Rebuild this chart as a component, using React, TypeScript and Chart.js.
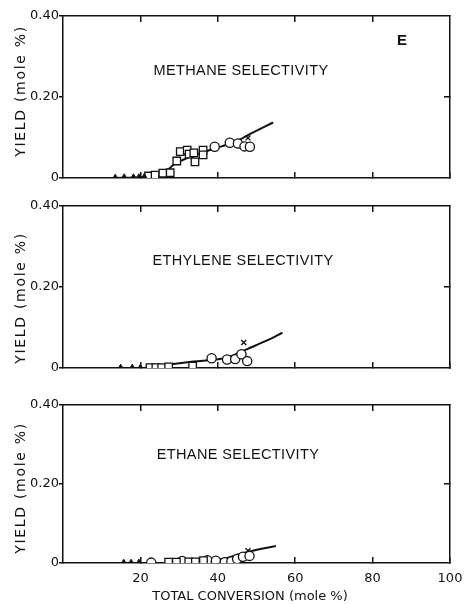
import React, { useEffect, useRef } from "react";
import { Chart, registerables } from "chart.js";

Chart.register(...registerables);

type Pt = [number, number];

// ---------- axis ticks ----------
const xTickValues = [20, 40, 60, 80, 100];
const xTopTickValues = [20, 40, 60, 80];
const yTickValues = [0, 0.2, 0.4];
const yRightTickValues = [0.2];

// ---------- methane ----------
const methaneTriangles: Pt[] = [[13.5, 0.002], [15.8, 0.003], [18.2, 0.003], [19.6, 0.003], [21, 0.004]];
const methaneSquares: Pt[] = [
  [22.1, 0.005], [23.8, 0.007], [25.8, 0.012], [27.7, 0.013], [29.4, 0.042], [30.3, 0.065],
  [32.1, 0.069], [32.6, 0.059], [33.8, 0.062], [34.1, 0.040], [36.2, 0.069], [36.2, 0.057],
];
const methaneCircles: Pt[] = [[39.2, 0.077], [43.1, 0.087], [45.2, 0.085], [46.9, 0.078], [48.3, 0.077]];
const methaneCross: Pt[] = [[47.8, 0.099]];
const methaneCurve: Pt[] = [
  [13, 0], [20, 0.002], [24, 0.007], [26.5, 0.016], [28.5, 0.032], [31.5, 0.047],
  [35, 0.059], [38, 0.069], [41, 0.078], [45, 0.092], [48.6, 0.11], [54.3, 0.137],
];

// ---------- ethylene ----------
const ethyleneTriangles: Pt[] = [[14.9, 0.002], [17.9, 0.002], [20, 0.002]];
const ethyleneSquares: Pt[] = [[22.5, 0.001], [24, 0.001], [25.5, 0.001], [27.3, 0.003], [33.5, 0.005]];
const ethyleneCircles: Pt[] = [[38.4, 0.024], [42.4, 0.021], [44.5, 0.022], [46.1, 0.034], [47.6, 0.017]];
const ethyleneCross: Pt[] = [[46.7, 0.063]];
const ethyleneCurve: Pt[] = [
  [21, 0], [25, 0.005], [28.5, 0.01], [33.7, 0.016], [40.5, 0.022], [44, 0.031],
  [47.4, 0.046], [52, 0.065], [56.7, 0.087],
];

// ---------- ethane ----------
const ethaneTriangles: Pt[] = [[15.7, 0.002], [17.6, 0.002], [19.6, 0.002]];
const ethaneSquares: Pt[] = [[27.3, 0.002], [29.3, 0.002], [32.5, 0.003], [34.2, 0.003], [36.3, 0.006]];
const ethaneCircles: Pt[] = [
  [22.8, 0.001], [30.8, 0.005], [37.3, 0.007], [39.5, 0.006], [41.8, 0.002],
  [43.5, 0.004], [45, 0.01], [46.5, 0.016], [48.2, 0.018],
];
const ethaneCross: Pt[] = [[47.8, 0.031]];
const ethaneCurve: Pt[] = [[39, 0.006], [42, 0.012], [44.8, 0.02], [48.2, 0.029], [55, 0.043]];

const panelTitles = ["METHANE SELECTIVITY", "ETHYLENE SELECTIVITY", "ETHANE SELECTIVITY"];
const yTitle = "YIELD (mole %)";
const xTitle = "TOTAL CONVERSION (mole %)";
const panelLetter = "E";

const INK = "#111";

type PanelSpec = {
  top: number;
  height: number;
  areaTop: number;
  areaBottom: number;
  title: string;
  titlePos: [number, number];
  yTitleY: number;
  letter?: boolean;
  xAxisTitle?: boolean;
  xLabels: boolean;
  triangles: Pt[];
  squares: Pt[];
  circles: Pt[];
  cross: Pt[];
  curve: Pt[];
};

const panels: PanelSpec[] = [
  {
    top: 0, height: 196, areaTop: 16, areaBottom: 178, title: panelTitles[0], titlePos: [241, 70.5],
    yTitleY: 91, letter: true, xLabels: false,
    triangles: methaneTriangles, squares: methaneSquares, circles: methaneCircles, cross: methaneCross, curve: methaneCurve,
  },
  {
    top: 196, height: 190, areaTop: 10, areaBottom: 172, title: panelTitles[1], titlePos: [243, 65],
    yTitleY: 102, xLabels: false,
    triangles: ethyleneTriangles, squares: ethyleneSquares, circles: ethyleneCircles, cross: ethyleneCross, curve: ethyleneCurve,
  },
  {
    top: 386, height: 218, areaTop: 19, areaBottom: 177, title: panelTitles[2], titlePos: [238, 68.5],
    yTitleY: 102, xAxisTitle: true, xLabels: true,
    triangles: ethaneTriangles, squares: ethaneSquares, circles: ethaneCircles, cross: ethaneCross, curve: ethaneCurve,
  },
];

const toXY = (a: Pt[]) => a.map(([x, y]) => ({ x, y }));

const textPlugin = {
  id: "panelText",
  afterDraw(chart: any, _args: any, opts: any) {
    const ctx = chart.ctx as CanvasRenderingContext2D;
    ctx.save();
    ctx.fillStyle = INK;
    ctx.textAlign = "center";
    ctx.textBaseline = "middle";
    (ctx as any).letterSpacing = "0.4px";
    ctx.font = '14.5px "Liberation Sans"';
    ctx.fillText(opts.title, opts.titlePos[0], opts.titlePos[1]);
    if (opts.letter) {
      (ctx as any).letterSpacing = "0px";
      ctx.font = 'bold 15px "Liberation Sans"';
      ctx.fillText(panelLetter, 402, 41);
    }
    if (opts.xAxisTitle) {
      (ctx as any).letterSpacing = "0px";
      ctx.font = '13px "DejaVu Sans"';
      ctx.fillText(xTitle, 250, 211);
    }
    ctx.save();
    ctx.translate(21, opts.yTitleY);
    ctx.rotate(-Math.PI / 2);
    (ctx as any).letterSpacing = "1.7px";
    ctx.font = '14px "DejaVu Sans"';
    ctx.fillText(yTitle, 0, 0);
    ctx.restore();
    ctx.restore();
  },
};

function buildConfig(p: PanelSpec): any {
  const tickFont = { family: "DejaVu Sans", size: 13 };
  const gridInward = { drawOnChartArea: false, drawTicks: true, tickLength: -6, color: INK, lineWidth: 1.5 };
  const border = { display: true, color: INK, width: 1.5 };
  const setTicks = (vals: number[]) => (s: any) => {
    s.ticks = vals.map((v) => ({ value: v }));
  };
  const noPad = (s: any) => {
    s.paddingLeft = 0;
    s.paddingRight = 0;
    s.paddingTop = 0;
    s.paddingBottom = 0;
  };
  return {
    type: "scatter",
    data: {
      datasets: [
        {
          data: toXY(p.curve), showLine: true, borderColor: INK, borderWidth: 2, pointRadius: 0,
          cubicInterpolationMode: "monotone", fill: false, order: 10,
        },
        {
          data: toXY(p.triangles), pointStyle: "triangle", pointRadius: 3, borderColor: INK,
          backgroundColor: INK, borderWidth: 1, order: 1,
        },
        {
          data: toXY(p.squares), pointStyle: "rect", pointRadius: 5.3, borderColor: INK,
          backgroundColor: "#fff", borderWidth: 1.3, order: 1,
        },
        {
          data: toXY(p.circles), pointStyle: "circle", pointRadius: 4.6, borderColor: INK,
          backgroundColor: "#fff", borderWidth: 1.3, order: 1,
        },
        {
          data: toXY(p.cross), pointStyle: "crossRot", pointRadius: 3.5, borderColor: INK,
          borderWidth: 1.4, order: 1,
        },
      ],
    },
    options: {
      animation: false,
      responsive: false,
      devicePixelRatio: 1,
      layout: { padding: 0 },
      plugins: {
        legend: { display: false },
        tooltip: { enabled: false },
        panelText: {
          title: p.title, titlePos: p.titlePos, yTitleY: p.yTitleY, letter: p.letter, xAxisTitle: p.xAxisTitle,
        },
      },
      scales: {
        x: {
          type: "linear", position: "bottom", min: 0, max: 100,
          afterBuildTicks: setTicks(xTickValues),
          ticks: {
            display: p.xLabels, font: tickFont, color: INK, padding: 14, maxRotation: 0, autoSkip: false,
            callback: (v: number) => String(v),
          },
          grid: gridInward, border,
          afterFit: (s: any) => { s.height = p.height - p.areaBottom; noPad(s); },
        },
        x2: {
          type: "linear", position: "top", min: 0, max: 100,
          afterBuildTicks: setTicks(xTopTickValues),
          ticks: { display: false },
          grid: gridInward, border,
          afterFit: (s: any) => { s.height = p.areaTop; noPad(s); },
        },
        y: {
          type: "linear", position: "left", min: 0, max: 0.4,
          afterBuildTicks: setTicks(yTickValues),
          ticks: {
            font: tickFont, color: INK, padding: 0,
            callback: (v: number) => (v === 0 ? "0" : v.toFixed(2)),
          },
          grid: { drawOnChartArea: false, drawTicks: true, tickLength: 4, color: INK, lineWidth: 1.5 },
          border,
          afterFit: (s: any) => { s.width = 63; noPad(s); },
        },
        y2: {
          type: "linear", position: "right", min: 0, max: 0.4,
          afterBuildTicks: setTicks(yRightTickValues),
          ticks: { display: false },
          grid: gridInward, border,
          afterFit: (s: any) => { s.width = 14; noPad(s); },
        },
      },
    },
    plugins: [textPlugin],
  };
}

function Panel({ spec }: { spec: PanelSpec }) {
  const ref = useRef<HTMLCanvasElement>(null);
  useEffect(() => {
    const chart = new Chart(ref.current as HTMLCanvasElement, buildConfig(spec));
    return () => chart.destroy();
  }, [spec]);
  return (
    <canvas
      ref={ref}
      width={464}
      height={spec.height}
      style={{ position: "absolute", left: 0, top: spec.top, width: 464, height: spec.height }}
    />
  );
}

export default function App() {
  return (
    <div style={{ position: "absolute", left: 0, top: 0, width: 464, height: 604, background: "#fff" }}>
      {panels.map((p, i) => (
        <Panel key={i} spec={p} />
      ))}
    </div>
  );
}
